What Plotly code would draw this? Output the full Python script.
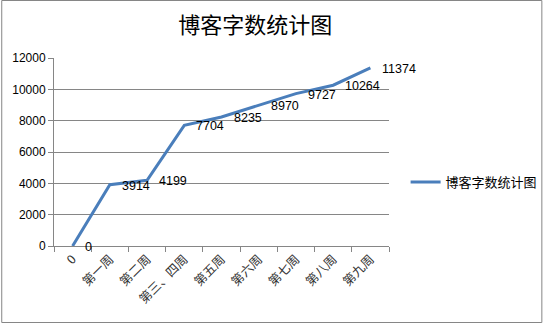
import plotly.graph_objects as go

categories = ["0", "第一周", "第二周", "第三、四周", "第五周", "第六周", "第七周", "第八周", "第九周"]
values = [0, 3914, 4199, 7704, 8235, 8970, 9727, 10264, 11374]
series_name = "博客字数统计图"
title_text = "博客字数统计图"
y_ticks = [0, 2000, 4000, 6000, 8000, 10000, 12000]

L, R, T, B = 54, 397, 58, 246
W, H = 555, 324
pw, ph = R - L, B - T

fig = go.Figure()
fig.add_trace(go.Scatter(
    x=categories, y=values, mode="lines", name=series_name,
    line=dict(color="#4A7EBB", width=3),
    cliponaxis=False,
))

annotations = [
    dict(x=i, y=v, xref="x", yref="y", text=str(v), showarrow=False,
         xanchor="left", yanchor="middle", xshift=10, yshift=-1,
         font=dict(family="Liberation Sans, Arial", size=12.5, color="#000000"))
    for i, v in enumerate(values)
]

fig.update_layout(
    width=W, height=H,
    margin=dict(l=L, r=W - R, t=T, b=H - B),
    paper_bgcolor="white", plot_bgcolor="white",
    title=dict(text=title_text, x=(260 - L) / pw, xref="paper", xanchor="center",
               y=1 - 25 / H, yanchor="middle",
               font=dict(family="Noto Sans CJK SC", size=22, color="#000000")),
    showlegend=True,
    legend=dict(x=(414 - L) / pw, y=(B - 182) / ph, xanchor="left", yanchor="middle",
                font=dict(family="Noto Sans CJK SC", size=13, color="#000000"),
                bgcolor="rgba(0,0,0,0)", itemwidth=30),
    xaxis=dict(type="category", range=[-0.5, len(categories) - 0.5],
               tickangle=-45, tickson="boundaries", ticks="outside",
               ticklen=5, tickcolor="#868686", showline=True, linecolor="#868686",
               showgrid=False,
               tickfont=dict(family="Noto Sans CJK SC", size=12.5, color="#333333")),
    yaxis=dict(range=[0, 12000], tickvals=y_ticks, ticktext=[str(t) for t in y_ticks],
               ticks="outside", ticklen=5,
               tickcolor="#868686", showline=True, linecolor="#868686",
               gridcolor="#868686", gridwidth=1, zeroline=False,
               tickfont=dict(family="Liberation Sans, Arial", size=12, color="#000000")),
    annotations=annotations,
    shapes=[dict(type="rect", xref="paper", yref="paper",
                 x0=(0.5 - L) / pw, x1=(W - 1.5 - L) / pw,
                 y0=(B - (H - 1.5)) / ph, y1=(B - 0.5) / ph,
                 line=dict(color="#868686", width=1), fillcolor="rgba(0,0,0,0)")],
)

fig.write_html("out.html")
